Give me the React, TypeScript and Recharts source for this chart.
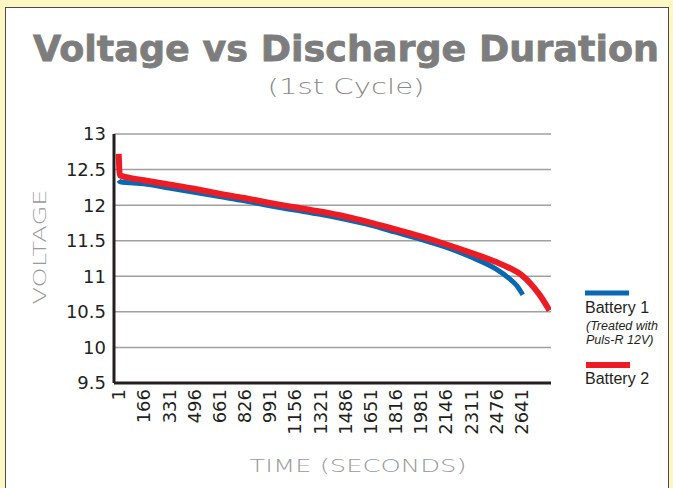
import React from 'react';
import { LineChart, Line, XAxis, YAxis, CartesianGrid } from 'recharts';

// tick labels
const timeTicks = [1, 166, 331, 496, 661, 826, 991, 1156, 1321, 1486, 1651, 1816, 1981, 2146, 2311, 2476, 2641];
const voltageTicks = [9.5, 10, 10.5, 11, 11.5, 12, 12.5, 13];

// Battery 1 (treated with Puls-R 12V)
const battery1Time = [1, 10, 166, 331, 496, 661, 826, 991, 1156, 1321, 1486, 1651, 1816, 1981, 2146, 2311, 2476, 2560, 2610, 2650];
const battery1Volts = [12.35, 12.33, 12.3, 12.24, 12.18, 12.12, 12.06, 11.99, 11.93, 11.87, 11.8, 11.72, 11.62, 11.52, 11.41, 11.27, 11.1, 10.97, 10.87, 10.74];

// Battery 2
const battery2Time = [1, 8, 60, 166, 331, 496, 661, 826, 991, 1156, 1321, 1486, 1651, 1816, 1981, 2146, 2311, 2476, 2560, 2641, 2700, 2760, 2825];
const battery2Volts = [12.72, 12.42, 12.39, 12.35, 12.29, 12.23, 12.16, 12.1, 12.03, 11.97, 11.91, 11.84, 11.755, 11.66, 11.56, 11.45, 11.33, 11.2, 11.12, 11.02, 10.9, 10.74, 10.52];

const BLUE = '#0a67b2';
const RED = '#ed1c24';
const INK = '#231f20';

const toPoints = (ts: number[], vs: number[]) => ts.map((t, i) => ({ t, v: vs[i] }));
const battery1 = toPoints(battery1Time, battery1Volts);
const battery2 = toPoints(battery2Time, battery2Volts);

function TimeTick({ x, y, payload }: any) {
  return (
    <text
      x={x}
      y={y}
      transform={`rotate(-90, ${x}, ${y})`}
      textAnchor="end"
      dy="0.36em"
      fontSize={18}
      fontFamily="DejaVu Sans"
      fill={INK}
    >
      {payload.value}
    </text>
  );
}

export default function App() {
  return (
    <div style={{ position: 'absolute', left: 0, top: 0, width: 673, height: 488, background: '#fdf7c3', overflow: 'hidden' }}>
      <div style={{ position: 'absolute', left: 5, top: 7, width: 662, height: 500, background: '#fff', border: '1px solid #4a4a4a' }} />
      <div style={{ position: 'absolute', left: 0, top: 0 }}>
        <LineChart width={673} height={488} margin={{ top: 134, right: 122, left: 54, bottom: 45 }}>
          <CartesianGrid vertical={false} stroke="#a0a0a0" strokeWidth={1.5} />
          <XAxis
            dataKey="t"
            type="number"
            domain={[-30, 2835]}
            ticks={timeTicks}
            interval={0}
            allowDataOverflow
            height={60}
            tickLine={false}
            tickSize={6}
            tickMargin={0}
            axisLine={{ stroke: INK, strokeWidth: 3 }}
            tick={<TimeTick />}
          />
          <YAxis
            type="number"
            domain={[9.5, 13]}
            ticks={voltageTicks}
            interval={0}
            width={60}
            tickLine={false}
            axisLine={{ stroke: INK, strokeWidth: 3 }}
            tick={{ fill: INK, fontSize: 18, fontFamily: 'DejaVu Sans' }}
          />
          <Line data={battery1} dataKey="v" type="monotone" stroke={BLUE} strokeWidth={5} dot={false} activeDot={false} isAnimationActive={false} />
          <Line data={battery2} dataKey="v" type="monotone" stroke={RED} strokeWidth={6} dot={false} activeDot={false} isAnimationActive={false} />
        </LineChart>
      </div>
      <svg width={673} height={488} style={{ position: 'absolute', left: 0, top: 0, pointerEvents: 'none' }}>
        <text x={346} y={61} textAnchor="middle" fontFamily="DejaVu Sans" fontWeight="bold" fontSize={36}
          fill="#7d7d7d" stroke="#7d7d7d" strokeWidth={0.8} textLength={626} lengthAdjust="spacingAndGlyphs">
          Voltage vs Discharge Duration
        </text>
        <text x={346} y={94} textAnchor="middle" fontFamily="DejaVu Sans" fontWeight={200} fontSize={22}
          fill="#8a8a8a" textLength={157} lengthAdjust="spacingAndGlyphs">
          (1st Cycle)
        </text>
        <text x={46} y={247} transform="rotate(-90, 46, 247)" textAnchor="middle" fontFamily="DejaVu Sans" fontWeight={200}
          fontSize={18} fill="#9a9a9a" textLength={115} lengthAdjust="spacingAndGlyphs">
          VOLTAGE
        </text>
        <text x={358} y={472} textAnchor="middle" fontFamily="DejaVu Sans" fontWeight={200}
          fontSize={18} fill="#9a9a9a" textLength={217} lengthAdjust="spacingAndGlyphs">
          TIME (SECONDS)
        </text>

        <rect x={585} y={290.5} width={44} height={5} fill={BLUE} />
        <text x={585} y={313} fontFamily="Liberation Sans" fontSize={16} fill={INK}>Battery 1</text>
        <text x={586} y={330} fontFamily="Liberation Sans" fontStyle="italic" fontSize={12.5} fill={INK}>(Treated with</text>
        <text x={586} y={344} fontFamily="Liberation Sans" fontStyle="italic" fontSize={12.5} fill={INK}>Puls-R 12V)</text>
        <rect x={586} y={362} width={44} height={6} fill={RED} />
        <text x={585} y={384} fontFamily="Liberation Sans" fontSize={16} fill={INK}>Battery 2</text>
      </svg>
    </div>
  );
}
